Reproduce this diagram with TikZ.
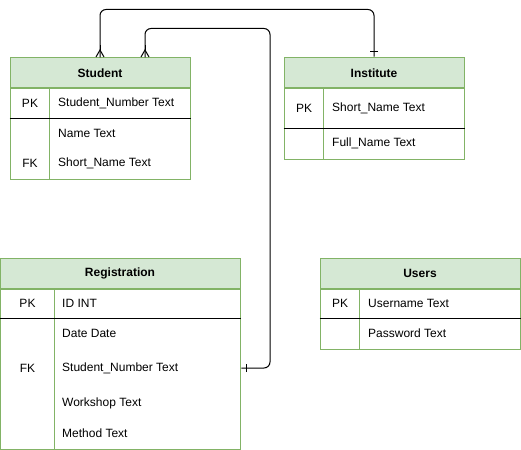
\documentclass[tikz,border=0pt]{standalone}
\usepackage{fontspec}
\setmainfont{Liberation Sans}
\usetikzlibrary{arrows.meta}
\definecolor{erline}{HTML}{82B366}
\definecolor{erfill}{HTML}{D5E8D4}
\tikzset{
	tblhead/.style={draw=erline,fill=erfill,line width=1pt,font=\fontsize{12}{14}\selectfont\bfseries,inner sep=0pt,minimum height=30pt},
	tblbody/.style={draw=erline,line width=1pt,inner sep=0pt,anchor=north},
	fieldtxt/.style={anchor=west,inner sep=0pt},
	colline/.style={draw=erline,line width=1pt},
	keyline/.style={draw=black,line width=1pt},
	rel/.style={draw=black,line width=1pt,rounded corners=6pt},
	toone/.style={-{Bar[width=8pt,sep=4pt]Bar[width=0pt]}},
	crowfoot/.style={draw=black,line width=1pt,{Straight Barb[reversed,length=7pt,width=8pt]}-},
}
\begin{document}
\begin{tikzpicture}[x=1pt,y=-1pt,font=\fontsize{12}{14}\selectfont]
	\useasboundingbox (0,0) rectangle (521,449);
	% Student
	\node[tblhead,minimum width=180pt] (student) at (100,73) {Student};
	\node[tblbody,minimum width=180pt,minimum height=90pt] (studentbody) at (student.south) {};
	\draw[colline] ([xshift=40pt]studentbody.north west) -- ([xshift=40pt]studentbody.south west);
	\draw[keyline] ([yshift=-30pt]studentbody.north west) -- ([yshift=-30pt]studentbody.north east);
	\node (studentpk) at (30,103) {PK};
	\node[fieldtxt] (studentnum) at (58,103) {Student\_Number Text};
	\node[fieldtxt] (studentname) at (58,133) {Name Text};
	\node (studentfk) at (30,163) {FK};
	\node[fieldtxt] (studentshort) at (58,163) {Short\_Name Text};
	% Institute
	\node[tblhead,minimum width=180pt] (institute) at (374,73) {Institute};
	\node[tblbody,minimum width=180pt,minimum height=70pt] (institutebody) at (institute.south) {};
	\draw[colline] ([xshift=40pt]institutebody.north west) -- ([xshift=40pt]institutebody.south west);
	\draw[keyline] ([yshift=-40pt]institutebody.north west) -- ([yshift=-40pt]institutebody.north east);
	\node (institutepk) at (304,108) {PK};
	\node[fieldtxt] (instituteshort) at (332,108) {Short\_Name Text};
	\node[fieldtxt] (institutefull) at (332,143) {Full\_Name Text};
	% Registration
	\node[tblhead,minimum width=240pt] (reg) at (120,273) {Registration};
	\node[tblbody,minimum width=240pt,minimum height=160pt] (regbody) at (reg.south) {};
	\draw[colline] ([xshift=55pt]regbody.north west) -- ([xshift=55pt]regbody.south west);
	\draw[keyline] ([yshift=-30pt]regbody.north west) -- ([yshift=-30pt]regbody.north east);
	\node (regpk) at (27.5,303) {PK};
	\node[fieldtxt] (regid) at (62,303) {ID INT};
	\node[fieldtxt] (regdate) at (62,333) {Date Date};
	\node (regfklabel) at (27.5,368) {FK};
	\node[fieldtxt] (regnum) at (62,368) {Student\_Number Text};
	\node[fieldtxt] (regworkshop) at (62,403) {Workshop Text};
	\node[fieldtxt] (regmethod) at (62,433) {Method Text};
	% Users
	\node[tblhead,minimum width=200pt] (users) at (420,273) {Users};
	\node[tblbody,minimum width=200pt,minimum height=60pt] (usersbody) at (users.south) {};
	\draw[colline] ([xshift=40pt]usersbody.north west) -- ([xshift=40pt]usersbody.south west);
	\draw[keyline] ([yshift=-30pt]usersbody.north west) -- ([yshift=-30pt]usersbody.north east);
	\node (userspk) at (340,303) {PK};
	\node[fieldtxt] (usersname) at (368,303) {Username Text};
	\node[fieldtxt] (userspass) at (368,333) {Password Text};
	% relations
	\coordinate (regfk) at (regnum -| regbody.east);
	\coordinate (studentfoot) at ([xshift=45pt]student.north);
	\draw[rel,toone] (student.north) -- ++(0,-48) -| (institute.north);
	\draw[crowfoot] (student.north) -- ++(0,-12);
	\draw[rel,toone] (studentfoot) -- ++(0,-29) -- ++(125,0) |- (regfk);
	\draw[crowfoot] (studentfoot) -- ++(0,-12);
\end{tikzpicture}
\end{document}
